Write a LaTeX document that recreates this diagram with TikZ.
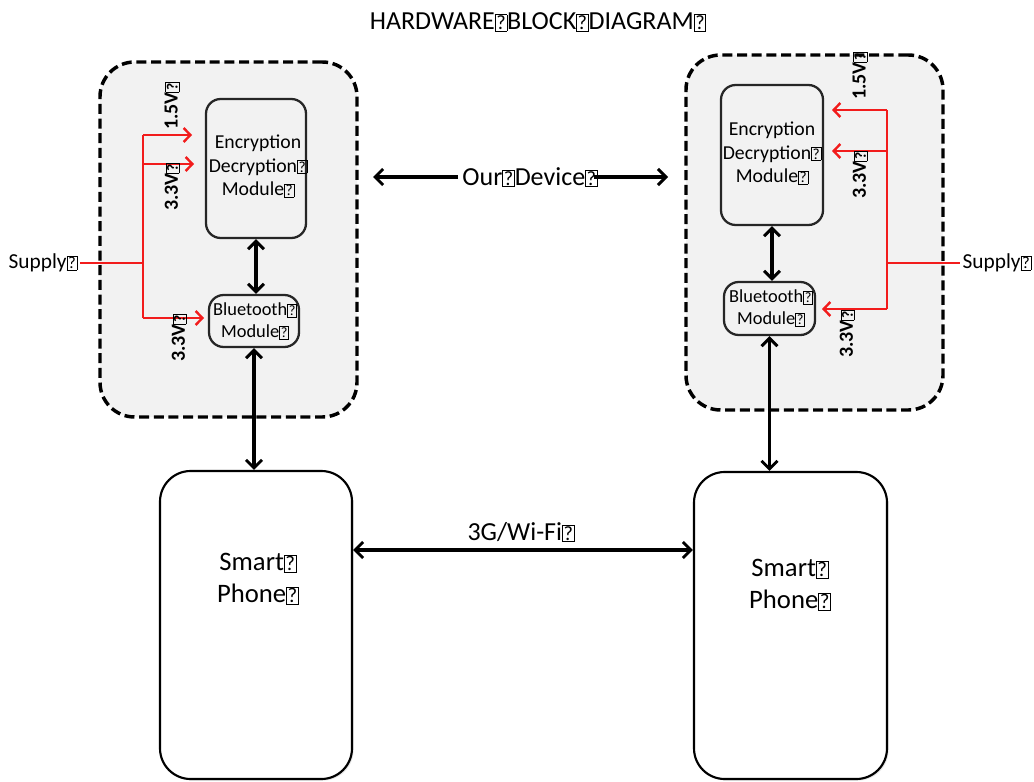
\documentclass[tikz,border=0pt]{standalone}
\usepackage{fontspec}
\setmainfont{Carlito}
\usetikzlibrary{arrows.meta,fit,shadows}
\definecolor{boxgray}{HTML}{F2F2F2}
\definecolor{wire}{HTML}{F21C1C}
% placeholder glyph for the unprintable characters in the labels
\newcommand\gl{{\setlength\fboxsep{0.6pt}\setlength\fboxrule{0.5pt}\fbox{\scalebox{0.78}{?}}}}
\begin{document}
\begin{tikzpicture}[x=0.75pt,y=-0.75pt,
  >={Straight Barb[length=6pt,width=12pt,line width=2.2pt]},
  container/.style={draw, dash pattern=on 7.5pt off 3.5pt, line width=2.6pt,
    fill=boxgray, rounded corners=26pt, inner sep=0pt},
  module/.style={draw=black!85, line width=1.7pt, fill=boxgray,
    rounded corners=11pt, inner sep=0pt},
  phone/.style={draw, line width=1.6pt, fill=white, rounded corners=23pt,
    inner sep=0pt, drop shadow={opacity=0.2, shadow xshift=1.2pt, shadow yshift=-1.2pt}},
  link/.style={line width=2.4pt, <->},
  onelink/.style={line width=2.4pt, ->},
  rail/.style={draw=wire, line width=2.1pt},
  feed/.style={draw=wire, line width=2.1pt,
    -{Straight Barb[length=5pt,width=10.5pt,line width=1.8pt]}},
  volt/.style={font=\bfseries\fontsize{15}{16}\selectfont, rotate=90, inner sep=0pt},
  modtext/.style={align=center, font=\fontsize{14.8}{17.8}\selectfont, inner sep=0pt},
  bttext/.style={align=center, font=\fontsize{13.8}{16.5}\selectfont, inner sep=0pt},
  phtext/.style={align=center, font=\fontsize{20}{24}\selectfont, inner sep=0pt},
  bigtext/.style={font=\fontsize{19.5}{22}\selectfont, inner sep=3pt},
  suptext/.style={font=\fontsize{16}{18}\selectfont, inner sep=2pt}]
\useasboundingbox (0,0) rectangle (1034,781);

% title
\node[bigtext] (title) at (538,22) {HARDWARE\gl BLOCK\gl DIAGRAM\gl};

% device enclosures
\node[container, fit={(100,62) (357,417)}] (lc) {};
\node[container, fit={(686,55) (943,410)}] (rc) {};

% modules
\node[module, fit={(206,99) (306,238)}] (lenc) {};
\node[module, fit={(209,295) (299,347)}] (lbt) {};
\node[module, fit={(721,85) (823,225)}] (renc) {};
\node[module, fit={(724,282) (815,335)}] (rbt) {};
\node[modtext] (lenct) at (258,166) {Encryption\\Decryption\gl\\Module\gl};
\node[modtext] (renct) at (772,153) {Encryption\\Decryption\gl\\Module\gl};
\node[bttext] (lbtt) at (255,321) {Bluetooth\gl\\Module\gl};
\node[bttext] (rbtt) at (771,308) {Bluetooth\gl\\Module\gl};

% phones
\node[phone, fit={(160,471) (352,779)}] (lph) {};
\node[phone, fit={(694,472) (887,779)}] (rph) {};
\node[phtext] (lpht) at (258,579) {Smart\gl\\Phone\gl};
\node[phtext] (rpht) at (790,585) {Smart\gl\\Phone\gl};

% data links
\draw[link] (lenc.south) -- (lenc.south |- lbt.north);
\draw[link] (lbt.south) -- (lbt.south |- lph.north);
\draw[link] (renc.south) -- (renc.south |- rbt.north);
\draw[link] (rbt.south) -- (rbt.south |- rph.north);

\coordinate (wy) at (0,550);
\node[bigtext] (wifi) at (521,532) {3G/Wi-Fi\gl};
\draw[link] (lph.east |- wy) -- (rph.west |- wy);

\node[bigtext] (dev) at (530,177) {Our\gl Device\gl};
\coordinate (devl) at (373,177);
\coordinate (devr) at (668,177);
\draw[onelink] (dev.west) -- (devl);
\draw[onelink] ([xshift=-6pt]dev.east) -- (devr);

% power supply, left device
\node[suptext] (lsup) at (43,263) {Supply\gl};
\coordinate (ls) at (143,263);
\coordinate (lt) at (143,135);
\coordinate (lm) at (143,164);
\coordinate (lb) at (143,318);
\coordinate (lta) at (192,135);
\coordinate (lma) at (194,164);
\coordinate (lba) at (204,318);
\draw[rail] (lsup.east) -- (ls);
\draw[rail] (lt) -- (lb);
\draw[feed] (lt) -- (lta);
\draw[feed] (lm) -- (lma);
\draw[feed] (lb) -- (lba);
\node[volt] (lv1) at (172,106) {1.5V\gl};
\node[volt] (lv2) at (172,187) {3.3V\gl};
\node[volt] (lv3) at (179,338) {3.3V\gl};

% power supply, right device
\node[suptext] (rsup) at (997,263) {Supply\gl};
\coordinate (rs) at (887,263);
\coordinate (rt) at (887,110);
\coordinate (rm) at (887,151);
\coordinate (rb) at (887,309);
\coordinate (rta) at (832,110);
\coordinate (rma) at (832,151);
\coordinate (rba) at (822,309);
\draw[rail] (rsup.west) -- (rs);
\draw[rail] (rt) -- (rb);
\draw[feed] (rt) -- (rta);
\draw[feed] (rm) -- (rma);
\draw[feed] (rb) -- (rba);
\node[volt] (rv1) at (860,76) {1.5V\gl};
\node[volt] (rv2) at (860,175) {3.3V\gl};
\node[volt] (rv3) at (847,334) {3.3V\gl};
\end{tikzpicture}
\end{document}
